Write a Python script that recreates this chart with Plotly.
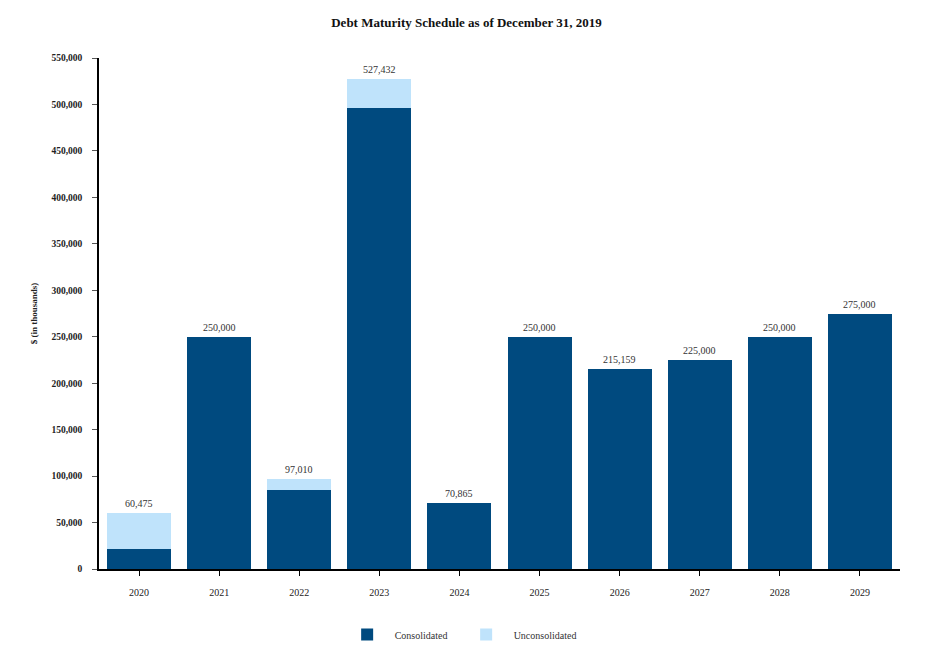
import plotly.graph_objects as go

years = ["2020", "2021", "2022", "2023", "2024", "2025", "2026", "2027", "2028", "2029"]
consolidated = [21500, 250000, 85500, 496000, 70865, 250000, 215159, 225000, 250000, 275000]
unconsolidated = [38975, 0, 11510, 31432, 0, 0, 0, 0, 0, 0]
totals = [60475, 250000, 97010, 527432, 70865, 250000, 215159, 225000, 250000, 275000]
y_ticks = list(range(0, 550001, 50000))

FONT = "Liberation Serif"

fig = go.Figure()
fig.add_trace(go.Bar(x=years, y=consolidated, name="Consolidated",
                     marker=dict(color="#004a7f", line=dict(width=0))))
fig.add_trace(go.Bar(x=years, y=unconsolidated, name="Unconsolidated",
                     marker=dict(color="#bfe3fb", line=dict(width=0))))

for i, t in enumerate(totals):
    fig.add_annotation(x=i, y=t, xref="x", yref="y", text=f"{t:,}", showarrow=False,
                       yanchor="bottom", yshift=2,
                       font=dict(family=FONT, size=10, color="#333333"))

fig.update_layout(
    barmode="stack",
    bargap=0.2,
    width=933, height=666,
    margin=dict(l=99, r=33, t=58, b=97),
    paper_bgcolor="white", plot_bgcolor="white",
    font=dict(family=FONT, color="#222222"),
    title=dict(text="<b>Debt Maturity Schedule as of December 31, 2019</b>",
               x=0.5, xanchor="center", y=0.967, yanchor="middle",
               font=dict(family=FONT, size=13, color="#111111")),
    xaxis=dict(type="category", showline=True, linecolor="black", linewidth=1.5, ticks="outside",
               ticklen=5, tickcolor="black", tickfont=dict(family=FONT, size=10, color="#222222"),
               showgrid=False, range=[-0.5, 9.5], ticklabelstandoff=8),
    yaxis=dict(showline=True, linecolor="black", linewidth=1.5, ticks="outside",
               ticklen=5, tickcolor="#555555", tickvals=y_ticks,
               ticktext=[f"<b>{v:,}</b>" for v in y_ticks],
               tickfont=dict(family=FONT, size=9.5, color="#222222"),
               range=[0, 550000], showgrid=False, zeroline=False, ticklabelstandoff=8,
               title=dict(text="<b>$ (in thousands)</b>", font=dict(family=FONT, size=9, color="#222222"),
                          standoff=12)),
    legend=dict(orientation="h", x=0.449, xanchor="center", y=-0.1, yanchor="top",
                font=dict(family=FONT, size=10, color="#333333"), itemwidth=45,
                traceorder="normal", entrywidth=59),
)

fig.write_html("out.html")
